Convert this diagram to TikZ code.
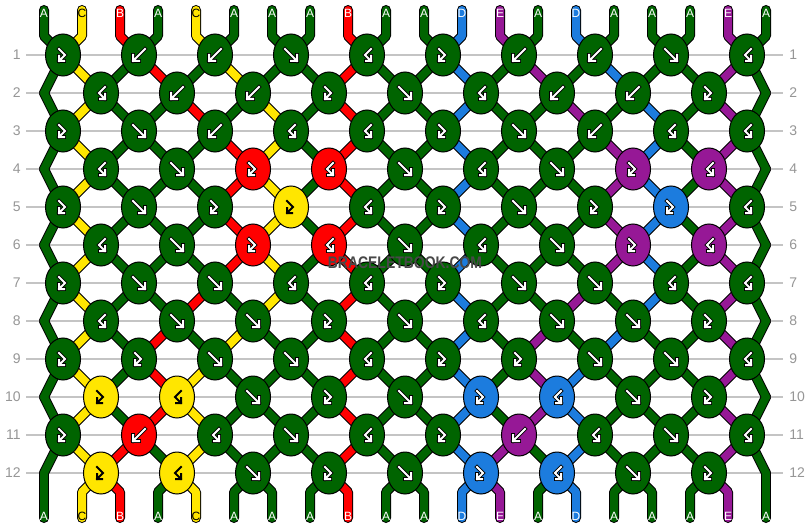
\documentclass[tikz,border=0pt]{standalone}
\usepackage{fontspec}
\setmainfont{Liberation Sans}
\usetikzlibrary{shapes.geometric}

% one unit is one pixel of the chart, y runs downwards
\tikzset{
  knot/.style={ellipse, draw=black, line width=0.75pt, minimum width=26.25pt,
    minimum height=31.5pt, inner sep=0pt},
  outline/.style={black, line width=7.5pt, line cap=round, line join=round},
  thread/.style={line width=6pt, line cap=round, line join=round},
  rowline/.style={draw=rowgray, line width=1.1pt},
  rownum/.style={text=numgray, inner sep=0pt, font=\fontsize{10.5}{12}\selectfont},
  endlabel/.style={inner sep=0pt, font=\fontsize{9}{10}\selectfont},
}

% knot marks: f forward, b backward, p forward-backward, q backward-forward
\newcommand{\symf}[1]{\draw[#1] (-6,-6) -- (6,6) (0,6) -- (6,6) -- (6,0);}
\newcommand{\symb}[1]{\draw[#1] (6,-6) -- (-6,6) (0,6) -- (-6,6) -- (-6,0);}
\newcommand{\symp}[1]{\draw[#1] (-4,-6) -- (2,0) -- (-4,6) (1,6) -- (-4,6) -- (-4,1);}
\newcommand{\symq}[1]{\draw[#1] (4,-6) -- (-2,0) -- (4,6) (-1,6) -- (4,6) -- (4,1);}

% thread colours below each row, left to right
\def\threadlist{
  0/{A,C,B,A,C,A,A,A,B,A,A,D,E,A,D,A,A,A,E,A},
  1/{A,C,A,B,A,C,A,A,B,A,A,D,A,E,A,D,A,A,E,A},
  2/{A,C,A,A,B,A,C,A,B,A,A,D,A,A,E,A,D,A,E,A},
  3/{A,C,A,A,A,B,C,A,B,A,A,D,A,A,A,E,D,A,E,A},
  4/{A,C,A,A,A,B,C,A,B,A,A,D,A,A,A,E,D,A,E,A},
  5/{A,C,A,A,A,B,C,A,B,A,A,D,A,A,A,E,D,A,E,A},
  6/{A,C,A,A,A,B,C,A,B,A,A,D,A,A,A,E,D,A,E,A},
  7/{A,C,A,A,B,A,C,A,B,A,A,D,A,A,E,A,D,A,E,A},
  8/{A,C,A,B,A,C,A,A,B,A,A,D,A,E,A,D,A,A,E,A},
  9/{A,C,A,B,C,A,A,A,B,A,A,D,A,E,D,A,A,A,E,A},
  10/{A,C,A,B,C,A,A,A,B,A,A,D,A,E,D,A,A,A,E,A},
  11/{A,C,B,A,C,A,A,A,B,A,A,D,E,A,D,A,A,A,E,A},
  12/{A,C,B,A,C,A,A,A,B,A,A,D,E,A,D,A,A,A,E,A}}

\newcommand{\drawthreads}[1]{%
  \foreach \r/\cols in \threadlist {
    \foreach \c [count=\p] in \cols {
      \pgfmathtruncatemacro\n{\r+1}
      \ifnum\r=0 \draw[#1] (top-\p) -- (tb-\p) -- (s-1-\p);
      \else\ifnum\r=12 \draw[#1] (s-12-\p) -- (bb-\p) -- (bot-\p);
      \else \draw[#1] (s-\r-\p) -- (s-\n-\p);
      \fi\fi
    }
  }}

\begin{document}
\begin{tikzpicture}[x=0.75pt, y=-0.75pt]
    % Define thread colors
    \definecolor{colA}{RGB}{0, 100, 0}
    \definecolor{colB}{RGB}{255, 0, 0}
    \definecolor{colC}{RGB}{255, 230, 0}
    \definecolor{colD}{RGB}{28, 124, 222}
    \definecolor{colE}{RGB}{150, 24, 150}
    \definecolor{rowgray}{RGB}{196, 196, 196}
    \definecolor{numgray}{RGB}{150, 150, 150}
    \definecolor{stampgray}{RGB}{72, 72, 72}
    \colorlet{markA}{white} \colorlet{markB}{white} \colorlet{markC}{black}
    \colorlet{markD}{white} \colorlet{markE}{white}
    \colorlet{rimA}{black} \colorlet{rimB}{black} \colorlet{rimC}{colC}
    \colorlet{rimD}{black} \colorlet{rimE}{black}

    \fill[white] (0,0) rectangle (810,528);
    \useasboundingbox (0,0) rectangle (810,528);

    % Row numbers and guide lines
    \foreach \r in {1,...,12} {
        \node[rownum, anchor=east] (nl-\r) at (21, {55+38*(\r-1)}) {\r};
        \node[rownum, anchor=west] (nr-\r) at (789, {55+38*(\r-1)}) {\r};
        \draw[rowline] ([xshift=3.75pt]nl-\r.east) -- ([xshift=-4.5pt]nr-\r.west);
    }

    % Thread points: knot centres in the rows, edge turns, loose ends
    \foreach \r in {1,...,12} {
        \foreach \p in {1,...,20} {
            \pgfmathtruncatemacro\x{isodd(\r) ? 63+76*int((\p-1)/2) :
                (\p==1 ? 44 : (\p==20 ? 766 : 101+76*int((\p-2)/2)))}
            \coordinate (s-\r-\p) at (\x, {55+38*(\r-1)});
        }
    }
    \foreach \p in {1,...,20} {
        \coordinate (top-\p) at ({44+38*(\p-1)}, 10);
        \coordinate (tb-\p) at ({44+38*(\p-1)}, 36);
        \coordinate (bb-\p) at ({44+38*(\p-1)}, 492);
        \coordinate (bot-\p) at ({44+38*(\p-1)}, 518);
    }

    % Threads: black rim first, colour on top
    \drawthreads{outline}
    \drawthreads{thread, draw=col\c}

    % Knots with their marks
    \foreach \r/\knots in {
        1/{p/A,b/A,b/A,f/A,q/A,p/A,b/A,b/A,f/A,q/A},
        2/{q/A,b/A,b/A,p/A,f/A,q/A,b/A,b/A,p/A},
        3/{p/A,f/A,b/A,q/A,q/A,p/A,f/A,b/A,q/A,q/A},
        4/{q/A,f/A,p/B,q/B,f/A,q/A,f/A,p/E,q/E},
        5/{p/A,f/A,p/A,p/C,q/A,p/A,f/A,p/A,p/D,q/A},
        6/{q/A,f/A,p/B,q/B,f/A,q/A,f/A,p/E,q/E},
        7/{p/A,f/A,f/A,q/A,q/A,p/A,f/A,f/A,q/A,q/A},
        8/{q/A,f/A,f/A,p/A,f/A,q/A,f/A,f/A,p/A},
        9/{p/A,p/A,f/A,f/A,q/A,p/A,p/A,f/A,f/A,q/A},
        10/{p/C,q/C,f/A,p/A,f/A,p/D,q/D,f/A,p/A},
        11/{p/A,b/B,q/A,f/A,q/A,p/A,b/E,q/A,f/A,q/A},
        12/{p/C,q/C,f/A,p/A,f/A,p/D,q/D,f/A,p/A}} {
        \foreach \t/\c [count=\i] in \knots {
            \pgfmathtruncatemacro\p{isodd(\r) ? 2*\i-1 : 2*\i}
            \node[knot, fill=col\c] (k-\r-\i) at (s-\r-\p) {};
            \begin{scope}[shift={(k-\r-\i.center)}]
                \csname sym\t\endcsname{draw=rim\c, line width=2.9pt, line cap=rect}
                \csname sym\t\endcsname{draw=mark\c, line width=1.5pt, line cap=rect}
            \end{scope}
        }
    }

    % Thread letters at both ends
    \foreach \c [count=\p] in {A,C,B,A,C,A,A,A,B,A,A,D,E,A,D,A,A,A,E,A} {
        \node[endlabel, text=mark\c] (lt-\p) at ({44+38*(\p-1)}, 13) {\c};
        \node[endlabel, text=mark\c] (lb-\p) at ({44+38*(\p-1)}, 516) {\c};
    }

    % Site stamp
    \node[text=stampgray, inner sep=0pt, font=\bfseries\fontsize{12.6}{14}\selectfont]
        (stamp) at (405,263) {\scalebox{0.83}[1]{BRACELETBOOK.COM}};
\end{tikzpicture}
\end{document}
